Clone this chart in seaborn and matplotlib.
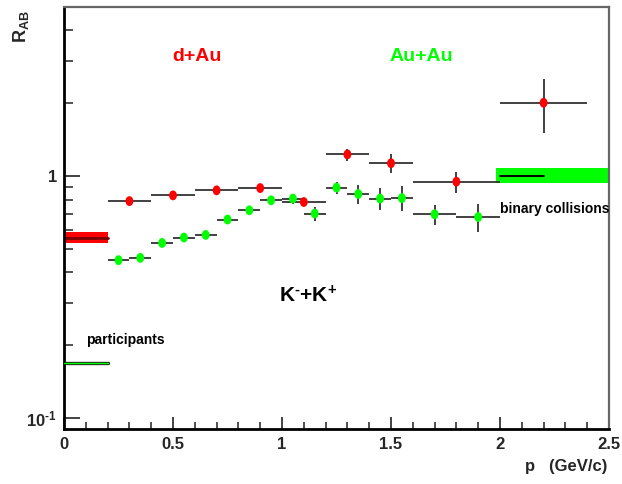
import numpy as np
import pandas as pd
import seaborn as sns
import matplotlib
matplotlib.use("Agg")
import matplotlib.pyplot as plt
from matplotlib.path import Path
from matplotlib.ticker import FixedLocator, FixedFormatter, NullFormatter, MultipleLocator

# ---------------- data ----------------
dau_p = [0.3, 0.5, 0.7, 0.9, 1.1, 1.3, 1.5, 1.8, 2.2]
dau_r = [0.788, 0.832, 0.873, 0.892, 0.781, 1.229, 1.13, 0.948, 2.01]
dau_dp = [0.1, 0.1, 0.1, 0.1, 0.1, 0.1, 0.1, 0.2, 0.2]
dau_dr = [0.02, 0.02, 0.02, 0.025, 0.025, 0.07, 0.10, 0.095, 0.5]

auau_p = [0.25, 0.35, 0.45, 0.55, 0.65, 0.75, 0.85, 0.95, 1.05, 1.15,
          1.25, 1.35, 1.45, 1.55, 1.7, 1.9]
auau_r = [0.449, 0.459, 0.529, 0.557, 0.571, 0.661, 0.722, 0.794, 0.807, 0.70,
          0.896, 0.843, 0.807, 0.811, 0.695, 0.677]
auau_dp = [0.05, 0.05, 0.05, 0.05, 0.05, 0.05, 0.05, 0.05, 0.05, 0.05,
           0.05, 0.05, 0.05, 0.05, 0.1, 0.1]
auau_dr = [0.01, 0.01, 0.01, 0.01, 0.012, 0.014, 0.016, 0.02, 0.04, 0.047,
           0.05, 0.073, 0.085, 0.095, 0.067, 0.09]

# scaling references
npart_x = [0.0, 0.2]
npart_dau = 0.555
npart_dau_lo, npart_dau_hi = 0.529, 0.587
npart_auau = 0.168
ncoll_x = [1.98, 2.5]
ncoll_line_x = [2.0, 2.2]
ncoll = 1.0
ncoll_lo, ncoll_hi = 0.935, 1.076

ytick_major = [0.1, 1.0]
ytick_labels = [r"10$^{\text{-1}}$", "1"]
ytick_minor = [0.2, 0.3, 0.4, 0.5, 0.6, 0.7, 0.8, 0.9, 2, 3, 4]

RED = "#ff0000"
GREEN = "#00ff00"

# ---------------- style ----------------
sns.set_style("ticks")
plt.rcParams["font.family"] = ["Liberation Sans", "DejaVu Sans"]
plt.rcParams["font.weight"] = "bold"
plt.rcParams["axes.labelweight"] = "bold"
plt.rcParams["mathtext.fontset"] = "custom"
plt.rcParams["mathtext.rm"] = "Liberation Sans:bold"
plt.rcParams["mathtext.bf"] = "Liberation Sans:bold"
plt.rcParams["mathtext.it"] = "Liberation Sans:bold"
plt.rcParams["mathtext.default"] = "rm"

fig = plt.figure(figsize=(6.22, 4.84), dpi=100)
ax = fig.add_axes([64 / 622, 1 - 429 / 484, 545 / 622, 422 / 484])

# bands
ax.fill_between(npart_x, [npart_dau_lo] * 2, [npart_dau_hi] * 2, color=RED, lw=0, zorder=2)
ax.plot(npart_x, [npart_dau] * 2, color="#7a0000", lw=2.0, zorder=2.5)
ax.plot(npart_x, [npart_auau] * 2, color="#222222", lw=2.4, zorder=2.5)
ax.plot(npart_x, [npart_auau] * 2, color=GREEN, lw=1.0, zorder=2.6)
ax.fill_between(ncoll_x, [ncoll_lo] * 2, [ncoll_hi] * 2, color=GREEN, lw=0, zorder=2)
ax.plot(ncoll_line_x, [ncoll] * 2, color="black", lw=1.4, zorder=2.5)

# error bars
ax.errorbar(dau_p, dau_r, xerr=dau_dp, yerr=dau_dr, fmt="none",
            ecolor="#333333", elinewidth=1.3, capsize=0, zorder=3)
ax.errorbar(auau_p, auau_r, xerr=auau_dp, yerr=auau_dr, fmt="none",
            ecolor="#333333", elinewidth=1.3, capsize=0, zorder=3)

# markers (slightly tall ellipses)
circ = Path.unit_circle()
ell = Path(circ.vertices * np.array([0.8, 1.0]), circ.codes)
df = pd.DataFrame({
    "p": dau_p + auau_p,
    "R": dau_r + auau_r,
    "system": ["d+Au"] * len(dau_p) + ["Au+Au"] * len(auau_p),
})
sns.scatterplot(data=df, x="p", y="R", hue="system",
                palette={"d+Au": RED, "Au+Au": GREEN},
                marker=ell, s=50, edgecolor="none", legend=False, ax=ax, zorder=5)

# axes
ax.set_yscale("log")
ax.set_xlim(0, 2.5)
ax.set_ylim(0.09, 5)
ax.yaxis.set_major_locator(FixedLocator(ytick_major))
ax.yaxis.set_major_formatter(FixedFormatter(ytick_labels))
ax.yaxis.set_minor_locator(FixedLocator(ytick_minor))
ax.yaxis.set_minor_formatter(NullFormatter())
ax.xaxis.set_major_locator(MultipleLocator(0.5))
ax.xaxis.set_minor_locator(MultipleLocator(0.1))
ax.xaxis.set_major_formatter(matplotlib.ticker.FuncFormatter(lambda v, p: f"{v:g}"))

ax.tick_params(axis="y", which="major", direction="in", length=11.5, width=1.2,
               left=True, right=False, labelsize=12, pad=5, color="#222222")
ax.tick_params(axis="y", which="minor", direction="in", length=6.5, width=1.2,
               left=True, right=False, color="#333333")
ax.tick_params(axis="x", which="major", direction="in", length=8.6, width=1.2,
               bottom=True, top=False, labelsize=12, pad=6, color="#222222")
ax.tick_params(axis="x", which="minor", direction="in", length=5, width=1.2,
               bottom=True, top=False, color="#333333")

for s in ("left", "bottom"):
    ax.spines[s].set_color("black")
    ax.spines[s].set_linewidth(2.0)
for s in ("top", "right"):
    ax.spines[s].set_color("#666666")
    ax.spines[s].set_linewidth(1.6)

ax.set_xlabel("p   (GeV/c)", fontsize=12, fontweight="bold", loc="right")
ax.xaxis.set_label_coords(0.9963, -0.09)
ax.xaxis.label.set_va("center")
ax.set_ylabel(r"R$_{\mathrm{AB}}$", fontsize=13, fontweight="bold", loc="top")
ax.yaxis.set_label_coords(-0.079, 0.993)
ax.yaxis.label.set_va("center")

# annotations
ax.text(0.608, 2.98, "d+Au", color=RED, fontsize=14, fontweight="bold",
        ha="center", va="baseline")
ax.text(1.641, 2.98, "Au+Au", color=GREEN, fontsize=14, fontweight="bold",
        ha="center", va="baseline")
ax.text(1.12, 0.301, r"K$^{\text{-}}$+K$^{+}$", color="black", fontsize=15,
        fontweight="bold", ha="center", va="baseline")
ax.text(0.101, 0.202, "participants", color="black", fontsize=10,
        fontweight="bold", ha="left", va="baseline")
ax.text(2.0, 0.706, "binary collisions", color="black", fontsize=10,
        fontweight="bold", ha="left", va="baseline")

fig.savefig("out.png", dpi=100)
